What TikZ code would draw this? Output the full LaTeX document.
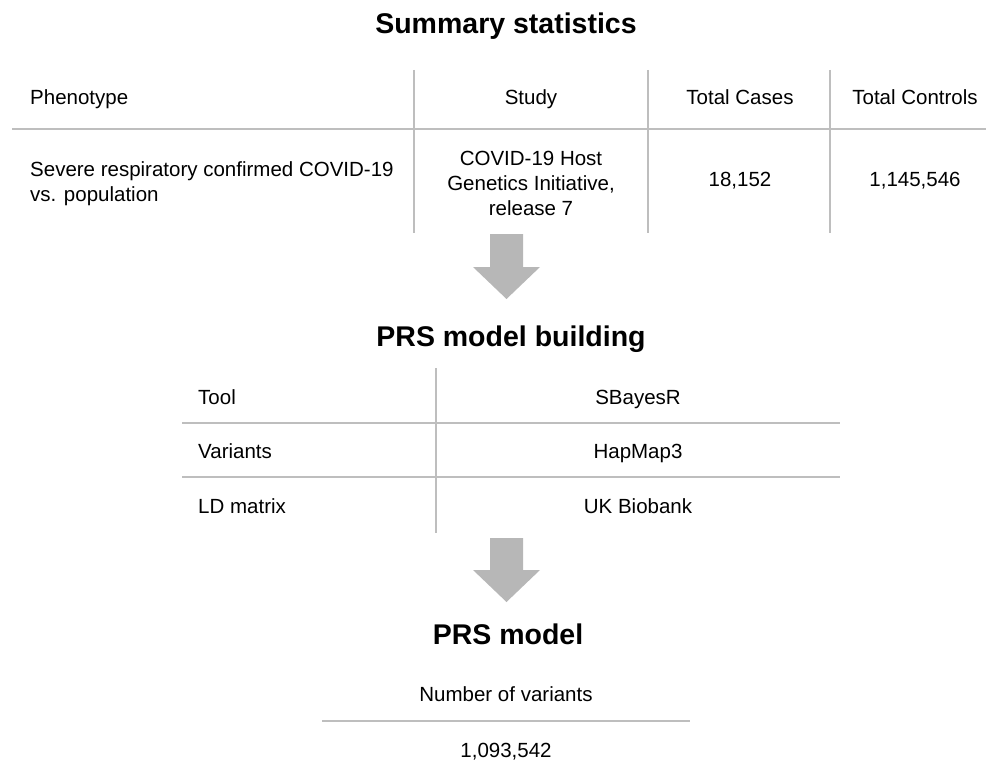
\documentclass[tikz,border=0pt]{standalone}
\usepackage{fontspec}
\setmainfont{Liberation Sans}
\definecolor{rulegray}{RGB}{190,190,190}
\definecolor{arrowgray}{RGB}{183,183,183}
\begin{document}
\begin{tikzpicture}[x=1pt,y=-1pt,
  txt/.style={inner sep=0pt,font=\fontsize{20.5}{25}\selectfont,anchor=base},
  ttl/.style={inner sep=0pt,font=\fontsize{28.5}{34}\selectfont\bfseries,anchor=base},
  rule/.style={draw=rulegray,line width=1.6pt},
  blockarrow/.style={fill=arrowgray,draw=none}]
\useasboundingbox (0,0) rectangle (986,760);

% ---- Summary statistics ----
\node[ttl] (t1) at (506,34) {Summary statistics};
\coordinate (h1a) at (12,129);
\coordinate (h1b) at (986,129);
\draw[rule] (h1a) -- (h1b);
\foreach \x [count=\i] in {414,648,830}{
  \coordinate (v1t\i) at (\x,70);
  \coordinate (v1b\i) at (\x,233);
  \draw[rule] (v1t\i) -- (v1b\i);
}
\node[txt,anchor=base west] (hPhen) at (30,104) {Phenotype};
\node[txt] (hStudy) at (531,104) {Study};
\node[txt] (hCases) at (740,104) {Total Cases};
\node[txt] (hCtrl) at (915,104) {Total Controls};
\node[txt,anchor=west,align=left] (cPhen) at (30,184) {Severe respiratory confirmed COVID-19\\vs. population};
\node[txt,anchor=center,align=center] (cStudy) at (531,183) {COVID-19 Host\\Genetics Initiative,\\release 7};
\node[txt] (cCases) at (740,186) {18,152};
\node[txt] (cCtrl) at (915,186) {1,145,546};

% ---- arrow 1 ----
\fill[blockarrow] (490,234) -- (523,234) -- (523,267) -- (540,267) -- (506.5,299) -- (473,267) -- (490,267) -- cycle;

% ---- PRS model building ----
\node[ttl] (t2) at (511,346) {PRS model building};
\coordinate (h2a) at (182,423);
\coordinate (h2b) at (840,423);
\coordinate (h2c) at (182,477);
\coordinate (h2d) at (840,477);
\draw[rule] (h2a) -- (h2b);
\draw[rule] (h2c) -- (h2d);
\coordinate (v2t) at (436,368);
\coordinate (v2b) at (436,533);
\draw[rule] (v2t) -- (v2b);
\node[txt,anchor=base west] (rTool) at (198,404) {Tool};
\node[txt,anchor=base west] (rVar) at (198,458) {Variants};
\node[txt,anchor=base west] (rLD) at (198,513) {LD matrix};
\node[txt] (vTool) at (638,404) {SBayesR};
\node[txt] (vVar) at (638,458) {HapMap3};
\node[txt] (vLD) at (638,513) {UK Biobank};

% ---- arrow 2 ----
\fill[blockarrow] (490,538) -- (523,538) -- (523,570) -- (540,570) -- (506.5,602) -- (473,570) -- (490,570) -- cycle;

% ---- PRS model ----
\node[ttl] (t3) at (508,644) {PRS model};
\node[txt] (nVar) at (506,701) {Number of variants};
\coordinate (h3a) at (322,721);
\coordinate (h3b) at (690,721);
\draw[rule] (h3a) -- (h3b);
\node[txt] (vNum) at (506,757) {1,093,542};
\end{tikzpicture}
\end{document}
